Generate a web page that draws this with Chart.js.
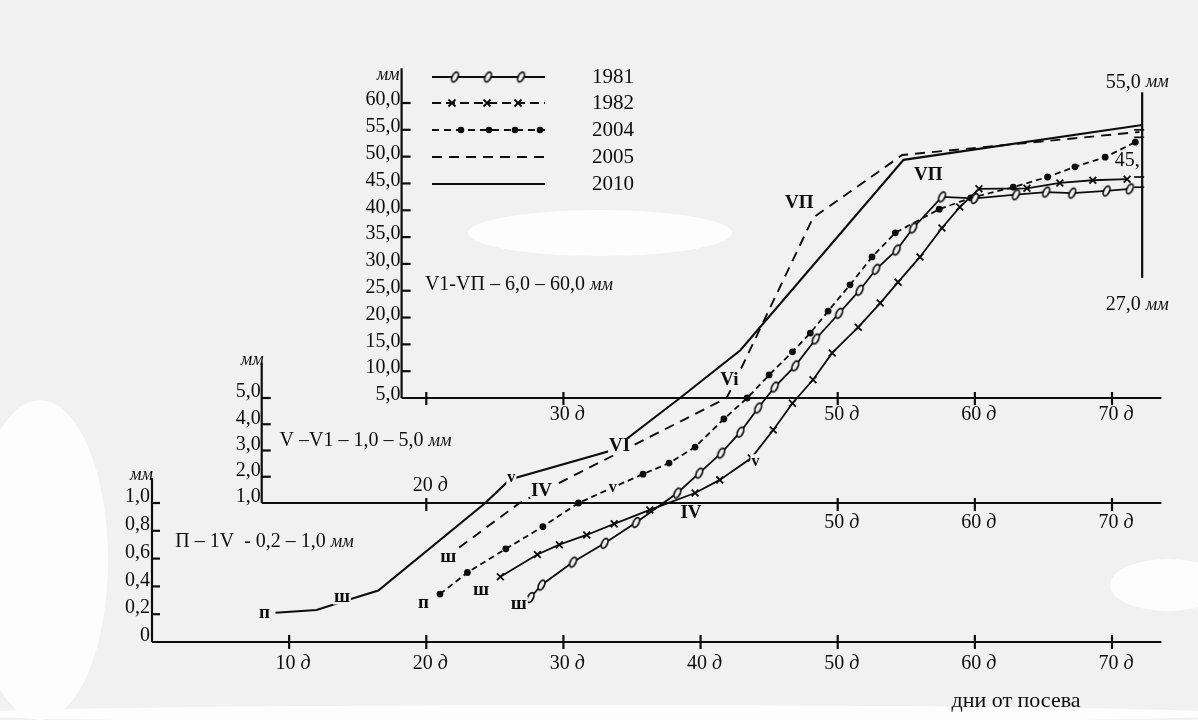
<!DOCTYPE html>
<html><head><meta charset="utf-8">
<script src="https://cdn.jsdelivr.net/npm/chart.js@4.4.0/dist/chart.umd.min.js"></script>
<style>html,body{margin:0;padding:0;background:#f2f1f1;}canvas{display:block;}</style>
</head><body>
<canvas id="c" width="1198" height="720"></canvas>
<script>
// ---------- data (days after sowing, length in mm) ----------
const seriesNames = ['1981', '1982', '2004', '2005', '2010'];

const days1981 = [27.6, 28.4, 30.7, 33.0, 35.3, 38.3, 39.9, 41.5, 42.9, 44.2, 45.4, 46.9, 48.4, 50.1, 51.6, 52.8, 54.3, 55.5, 57.6, 60.0, 63.0, 65.2, 67.1, 69.6, 71.3];
const mm1981   = [0.32, 0.41, 0.575, 0.71, 0.86, 1.38, 2.14, 2.9, 3.7, 4.62, 7.05, 11.0, 16.0, 20.8, 25.1, 29.0, 32.6, 36.7, 42.5, 42.2, 42.9, 43.4, 43.2, 43.6, 44.0];

const days1982 = [25.4, 28.1, 29.7, 31.7, 33.7, 36.3, 39.6, 41.4, 43.7, 45.3, 46.7, 48.2, 49.6, 51.5, 53.1, 54.4, 56.0, 57.6, 58.9, 60.3, 63.8, 66.2, 68.6, 71.1];
const mm1982   = [0.47, 0.63, 0.70, 0.77, 0.85, 0.95, 1.38, 1.88, 2.71, 3.78, 4.8, 8.4, 13.4, 18.2, 22.7, 26.6, 31.3, 36.7, 40.6, 44.0, 44.1, 45.1, 45.6, 45.8];

const days2004 = [21.0, 23.0, 25.8, 28.5, 31.1, 33.5, 35.8, 37.7, 39.6, 41.7, 43.4, 45.0, 46.7, 48.0, 49.3, 50.9, 52.5, 54.2, 57.4, 59.7, 62.8, 65.3, 67.3, 69.5, 71.7];
const mm2004   = [0.345, 0.50, 0.67, 0.83, 1.0, 1.57, 2.1, 2.52, 3.13, 4.2, 5.0, 9.3, 13.6, 17.1, 21.2, 26.1, 31.3, 35.8, 40.2, 42.3, 44.3, 46.2, 48.1, 49.9, 52.7];

const days2005 = [22.4, 26.8, 41.9, 42.9, 48.2, 54.7, 72.0];
const mm2005   = [0.68, 1.0, 5.0, 10.2, 38.6, 50.3, 54.6];

const days2010 = [9.0, 12.0, 14.5, 16.5, 24.3, 26.1, 33.5, 38.5, 42.9, 54.8, 72.2];
const mm2010   = [0.21, 0.23, 0.31, 0.37, 1.0, 1.9, 3.0, 5.0, 13.9, 49.4, 55.9];

// tick values of the three stacked panels
const yTicksBottom = [0, 0.2, 0.4, 0.6, 0.8, 1.0];
const yTicksMiddle = [1, 2, 3, 4, 5];
const yTicksTop    = [5, 10, 15, 20, 25, 30, 35, 40, 45, 50, 55, 60];
const xTicksBottom = [10, 20, 30, 40, 50, 60, 70];
const xTicksMiddle = [20, 50, 60, 70];
const xTicksTop    = [20, 30, 50, 60, 70];
const xLabelsTop   = [30, 50, 60, 70];

// ---------- piecewise (broken) vertical scale ----------
function toUnits(v) {
  if (v <= 1) return v * 139;
  if (v <= 5) return 139 + (v - 1) * 105 / 4;
  return 244 + (v - 5) * 295 / 55;
}
function fromUnits(u) {
  if (u <= 139) return u / 139;
  if (u <= 244) return 1 + (u - 139) * 4 / 105;
  return 5 + (u - 244) * 55 / 295;
}
const U_MAX = 539;
const LinearBase = Chart.LinearScale || Chart.registry.getScale('linear');
class PiecewiseScale extends LinearBase {
  getPixelForValue(value) {
    if (value === null || value === undefined || isNaN(value)) return NaN;
    return this.getPixelForDecimal(toUnits(value) / U_MAX);
  }
  getValueForPixel(pixel) {
    return fromUnits(this.getDecimalForPixel(pixel) * U_MAX);
  }
}
PiecewiseScale.id = 'piecewise';
PiecewiseScale.defaults = LinearBase.defaults;
Chart.register(PiecewiseScale);

// ---------- styling helpers ----------
const INK = '#0d0d0d';
const PAPER = '#f2f1f1';
const SERIF = '"Liberation Serif", "DejaVu Serif", serif';
const F_TICK = '20px ' + SERIF;
const F_IT = 'italic 18px ' + SERIF;

function fmt(v) { return v === 0 ? '0' : v.toFixed(1).replace('.', ','); }

function drawParts(ctx, parts, x, y, align) {
  let w = 0;
  parts.forEach(p => { ctx.font = p[1]; w += ctx.measureText(p[0]).width; });
  let cx = align === 'right' ? x - w : align === 'center' ? x - w / 2 : x;
  ctx.textAlign = 'left';
  ctx.textBaseline = 'middle';
  parts.forEach(p => { ctx.font = p[1]; ctx.fillText(p[0], cx, y); cx += ctx.measureText(p[0]).width; });
  return w;
}
function dayLabel(d) { return [[d + ' ', F_TICK], ['д', 'italic 20px ' + SERIF]]; }

function makeZero() {
  const c = document.createElement('canvas');
  c.width = 11; c.height = 15;
  const g = c.getContext('2d');
  g.fillStyle = PAPER; g.strokeStyle = INK; g.lineWidth = 1.7;
  g.beginPath(); g.ellipse(5.5, 7.5, 2.8, 5.2, 0.45, 0, Math.PI * 2); g.fill(); g.stroke();
  return c;
}
const zeroMark = makeZero();

function pts(days, vals) { return days.map((d, i) => ({ x: d, y: vals[i] })); }

// ---------- plugins ----------
const paperPlugin = {
  id: 'paper',
  beforeDraw(chart) {
    const ctx = chart.ctx;
    ctx.save();
    ctx.fillStyle = PAPER;
    ctx.fillRect(0, 0, chart.width, chart.height);
    ctx.fillStyle = '#fdfdfd';
    const blobs = [[600, 233, 132, 23], [1168, 585, 58, 26], [40, 560, 68, 160], [600, 714, 640, 9]];
    blobs.forEach(b => { ctx.beginPath(); ctx.ellipse(b[0], b[1], b[2], b[3], 0, 0, Math.PI * 2); ctx.fill(); });
    ctx.restore();
  }
};

const axesPlugin = {
  id: 'axes3',
  beforeDatasetsDraw(chart) {
    const { ctx, scales: { x, y } } = chart;
    const X = d => x.getPixelForValue(d), Y = v => y.getPixelForValue(v);
    ctx.save();
    ctx.strokeStyle = INK; ctx.fillStyle = INK; ctx.lineWidth = 2.2;
    const line = (x1, y1, x2, y2) => { ctx.beginPath(); ctx.moveTo(x1, y1); ctx.lineTo(x2, y2); ctx.stroke(); };

    // ---- bottom panel (0 – 1.0 mm), y-axis at day 0
    const bx = X(0), bTop = Y(1) - (Y(0.8) - Y(1)) * 0.9;
    line(bx, Y(0), bx, bTop);
    yTicksBottom.forEach(v => {
      if (v > 0) line(bx, Y(v), bx + 8, Y(v));
      ctx.font = F_TICK; ctx.textAlign = 'right'; ctx.textBaseline = 'middle';
      ctx.fillText(fmt(v), bx - 2, Y(v) - 6);
    });
    drawParts(ctx, [['мм', F_IT]], bx + 1, bTop - 3, 'right');
    line(bx, Y(0), X(73.6), Y(0));
    xTicksBottom.forEach(d => {
      line(X(d), Y(0) - 7, X(d), Y(0) + 7);
      drawParts(ctx, dayLabel(d), X(d) + 4, Y(0) + 22, 'center');
    });

    // ---- middle panel (1.0 – 5.0 mm), y-axis at day 8
    const mx = X(8), mTop = Y(5) - (Y(4) - Y(5)) * 1.35;
    line(mx, Y(1), mx, mTop);
    yTicksMiddle.forEach(v => {
      if (v > 1) line(mx, Y(v), mx + 9, Y(v));
      ctx.font = F_TICK; ctx.textAlign = 'right'; ctx.textBaseline = 'middle';
      ctx.fillText(fmt(v), mx - 1, Y(v) - 6);
    });
    drawParts(ctx, [['мм', F_IT]], mx + 2, mTop - 2, 'right');
    line(mx, Y(1), X(73.6), Y(1));
    xTicksMiddle.forEach(d => {
      line(X(d), Y(1) - 5, X(d), Y(1) + 8);
      const above = d < 30;
      drawParts(ctx, dayLabel(d), X(d) + 4, above ? Y(1) - 17 : Y(1) + 20, 'center');
    });

    // ---- top panel (5.0 – 60.0 mm), y-axis at day 18.2
    const tx = X(18.2), tTop = Y(60) - (Y(55) - Y(60)) * 1.3;
    line(tx, Y(5), tx, tTop);
    yTicksTop.forEach(v => {
      if (v > 5) line(tx, Y(v), tx + 9, Y(v));
      ctx.font = F_TICK; ctx.textAlign = 'right'; ctx.textBaseline = 'middle';
      ctx.fillText(fmt(v), tx - 1, Y(v) - 3);
    });
    drawParts(ctx, [['мм', F_IT]], tx - 2, tTop + 7, 'right');
    line(tx, Y(5), X(73.6), Y(5));
    xTicksTop.forEach(d => {
      line(X(d), Y(5) - 6, X(d), Y(5) + 7);
      if (xLabelsTop.includes(d)) drawParts(ctx, dayLabel(d), X(d) + 4, Y(5) + 17, 'center');
    });

    // ---- right size bar at day 72.2
    const rx = X(72.2);
    line(rx, Y(62), rx, Y(27.4));
    ctx.lineWidth = 1.7;
    [55, 53.6, 46.2, 44.3].forEach(v => line(rx - 8, Y(v), rx + 2, Y(v)));
    drawParts(ctx, [['55,0 ', F_TICK], ['мм', F_IT]], rx - 5, Y(63.8), 'center');
    drawParts(ctx, [['45,', F_TICK]], rx - 15, Y(49.3), 'center');
    drawParts(ctx, [['27,0 ', F_TICK], ['мм', F_IT]], rx - 5, Y(22.3), 'center');

    // ---- panel range captions
    drawParts(ctx, [['V1-VП – 6,0 – 60,0 ', F_TICK], ['мм', F_IT]], X(19.9), Y(26.1), 'left');
    drawParts(ctx, [['V –V1 – 1,0 – 5,0 ', F_TICK], ['мм', F_IT]], X(9.3), Y(3.36), 'left');
    drawParts(ctx, [['П – 1V  - 0,2 – 1,0 ', F_TICK], ['мм', F_IT]], X(1.7), Y(0.72), 'left');

    // x caption
    drawParts(ctx, [['дни от посева', '22px ' + SERIF]], 1016, 701, 'center');
    ctx.restore();
  },
  afterDatasetsDraw(chart) {
    const { ctx, scales: { x, y } } = chart;
    const X = d => x.getPixelForValue(d), Y = v => y.getPixelForValue(v);
    ctx.save();
    ctx.fillStyle = INK;
    // stage labels on the curves
    const stages = [
      ['п', 8.2, 0.21], ['ш', 13.85, 0.32], ['v', 26.2, 1.95], ['VI', 34.1, 3.17], ['VП', 56.6, 46.6],
      ['ш', 21.6, 0.61], ['IV', 28.4, 1.45], ['Vi', 42.1, 8.4], ['VП', 47.2, 41.3],
      ['п', 19.8, 0.28], ['v', 33.6, 1.57],
      ['ш', 24.0, 0.37], ['IV', 39.3, 0.93], ['v', 44.0, 2.55],
      ['ш', 26.75, 0.27]
    ];
    stages.forEach(s => {
      const px = X(s[1]), py = Y(s[2]);
      const small = s[0] === 'v';
      ctx.font = (small ? 'bold 16px ' : 'bold 19px ') + SERIF;
      const w = ctx.measureText(s[0]).width;
      ctx.fillStyle = PAPER;
      ctx.fillRect(px - w / 2 - 1, py - 8, w + 2, 15);
      ctx.fillStyle = INK;
      ctx.textAlign = 'center'; ctx.textBaseline = 'middle';
      ctx.fillText(s[0], px, py);
    });

    // legend
    const lx0 = 432, lx1 = 545, tx = 634;
    const rows = [77, 103, 130, 157, 184];
    ctx.strokeStyle = INK; ctx.lineWidth = 1.8;
    const seg = (yy, dash) => { ctx.setLineDash(dash); ctx.beginPath(); ctx.moveTo(lx0, yy); ctx.lineTo(lx1, yy); ctx.stroke(); ctx.setLineDash([]); };
    seg(rows[0], []);
    [455, 488, 521].forEach(px => ctx.drawImage(zeroMark, px - 5.5, rows[0] - 7.5));
    seg(rows[1], [9, 5]);
    [452, 487, 518].forEach(px => { ctx.beginPath(); ctx.moveTo(px - 3.5, rows[1] - 3.5); ctx.lineTo(px + 3.5, rows[1] + 3.5); ctx.moveTo(px + 3.5, rows[1] - 3.5); ctx.lineTo(px - 3.5, rows[1] + 3.5); ctx.stroke(); });
    seg(rows[2], [7, 5]);
    [461, 489, 515, 540].forEach(px => { ctx.beginPath(); ctx.arc(px, rows[2], 3.3, 0, Math.PI * 2); ctx.fill(); });
    seg(rows[3], [10, 7]);
    ctx.lineWidth = 2.1; seg(rows[4], []);
    ctx.font = '21px ' + SERIF; ctx.textAlign = 'right'; ctx.textBaseline = 'middle';
    seriesNames.forEach((n, i) => ctx.fillText(n, tx, rows[i]));
    ctx.restore();
  }
};

new Chart(document.getElementById('c'), {
  type: 'line',
  data: {
    datasets: [
      { label: seriesNames[0], data: pts(days1981, mm1981), borderColor: INK, borderWidth: 1.8,
        pointStyle: zeroMark, pointRadius: 5, clip: false },
      { label: seriesNames[1], data: pts(days1982, mm1982), borderColor: INK, borderWidth: 1.8,
        pointStyle: 'crossRot', pointRadius: 4.8, pointBorderWidth: 1.8, pointBorderColor: INK, clip: false },
      { label: seriesNames[2], data: pts(days2004, mm2004), borderColor: INK, borderWidth: 1.8, borderDash: [6, 4],
        pointStyle: 'circle', pointRadius: 3.4, pointBackgroundColor: INK, pointBorderColor: INK, pointBorderWidth: 0, clip: false },
      { label: seriesNames[3], data: pts(days2005, mm2005), borderColor: INK, borderWidth: 1.9, borderDash: [10, 7],
        pointRadius: 0, clip: false },
      { label: seriesNames[4], data: pts(days2010, mm2010), borderColor: INK, borderWidth: 2.1,
        pointRadius: 0, clip: false }
    ]
  },
  options: {
    responsive: false,
    animation: false,
    events: [],
    layout: { padding: { left: 152, right: 38, top: 103, bottom: 78 } },
    elements: { line: { tension: 0 } },
    scales: {
      x: { type: 'linear', min: 0, max: 73.5, display: false },
      y: { type: 'piecewise', min: 0, max: 60, display: false }
    },
    plugins: { legend: { display: false }, tooltip: { enabled: false } }
  },
  plugins: [paperPlugin, axesPlugin]
});
</script>
</body></html>
